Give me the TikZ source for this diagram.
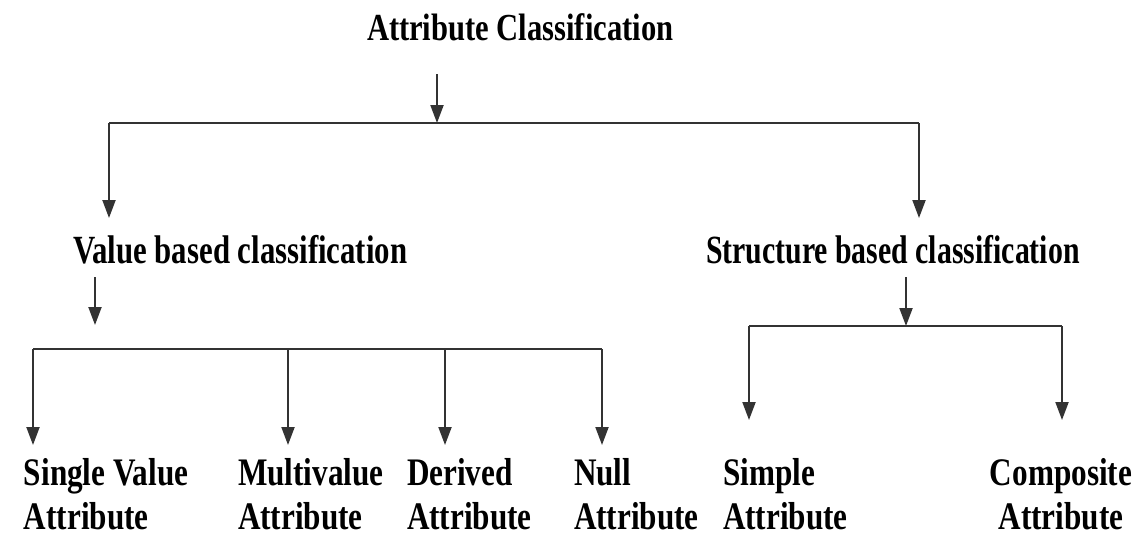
\documentclass[tikz,border=0pt]{standalone}
\usepackage{fontspec}
\setmainfont{Liberation Serif}[FakeStretch=0.8]
\newfontfamily\valfont{Liberation Serif}[FakeStretch=0.77]
\newfontfamily\strfont{Liberation Serif}[FakeStretch=0.745]
\usetikzlibrary{arrows.meta}
\begin{document}
\begin{tikzpicture}[x=0.5pt,y=-0.5pt,
  lbl/.style={inner sep=0pt,outer sep=0pt,anchor=base west,font=\bfseries\fontsize{19.5}{22}\selectfont},
  toplbl/.style={lbl,font=\bfseries\fontsize{19.1}{23}\selectfont},
  vallbl/.style={lbl,font=\valfont\bfseries\fontsize{20}{23}\selectfont},
  strlbl/.style={lbl,font=\strfont\bfseries\fontsize{20}{23}\selectfont},
  leaf/.style={lbl,align=left,text depth=0pt},
  wire/.style={draw=black!80,line width=1pt},
  arr/.style={wire,-{Triangle[length=9pt,width=6.5pt]}}]
\useasboundingbox (0,0) rectangle (1143,537);

% labels (multi-line nodes sit on the baseline of their last line)
\node[toplbl] (root) at (367,40) {Attribute Classification};
\node[vallbl] (val) at (73,263) {Value based classification};
\node[strlbl] (str) at (706,263) {Structure based classification};
\node[leaf] (sv) at (24,529) {Single Value\\Attribute};
\node[leaf] (mv) at (238,529) {Multivalue\\Attribute};
\node[leaf] (dv) at (407,529) {Derived\\Attribute};
\node[leaf] (nl) at (574,529) {Null\\Attribute};
\node[leaf] (sp) at (723,529) {Simple\\Attribute};
\node[leaf,align=center,anchor=base] (cp) at (1061,529) {Composite\\Attribute};

% junction points
\coordinate (r0) at (437,74);
\coordinate (r1) at (437,123);
\coordinate (rL) at (109,123);
\coordinate (rR) at (919,123);
\coordinate (rLt) at (109,218);
\coordinate (rRt) at (919,218);

\coordinate (v0) at (95,277);
\coordinate (v1) at (95,325);
\coordinate (vA) at (33,349);
\coordinate (vB) at (288,349);
\coordinate (vC) at (445,349);
\coordinate (vD) at (602,349);
\coordinate (vAt) at (33,445);
\coordinate (vBt) at (288,445);
\coordinate (vCt) at (445,445);
\coordinate (vDt) at (602,445);

\coordinate (s0) at (906,277);
\coordinate (s1) at (906,326);
\coordinate (sA) at (749,326);
\coordinate (sB) at (1062,326);
\coordinate (sAt) at (749,420);
\coordinate (sBt) at (1062,420);

% top level
\draw[arr] (r0) -- (r1);
\draw[wire] (rL) -- (rR);
\draw[arr] (rL) -- (rLt);
\draw[arr] (rR) -- (rRt);

% value based branch
\draw[arr] (v0) -- (v1);
\draw[wire] (vA) -- (vD);
\draw[arr] (vA) -- (vAt);
\draw[arr] (vB) -- (vBt);
\draw[arr] (vC) -- (vCt);
\draw[arr] (vD) -- (vDt);

% structure based branch
\draw[arr] (s0) -- (s1);
\draw[wire] (sA) -- (sB);
\draw[arr] (sA) -- (sAt);
\draw[arr] (sB) -- (sBt);
\end{tikzpicture}
\end{document}
